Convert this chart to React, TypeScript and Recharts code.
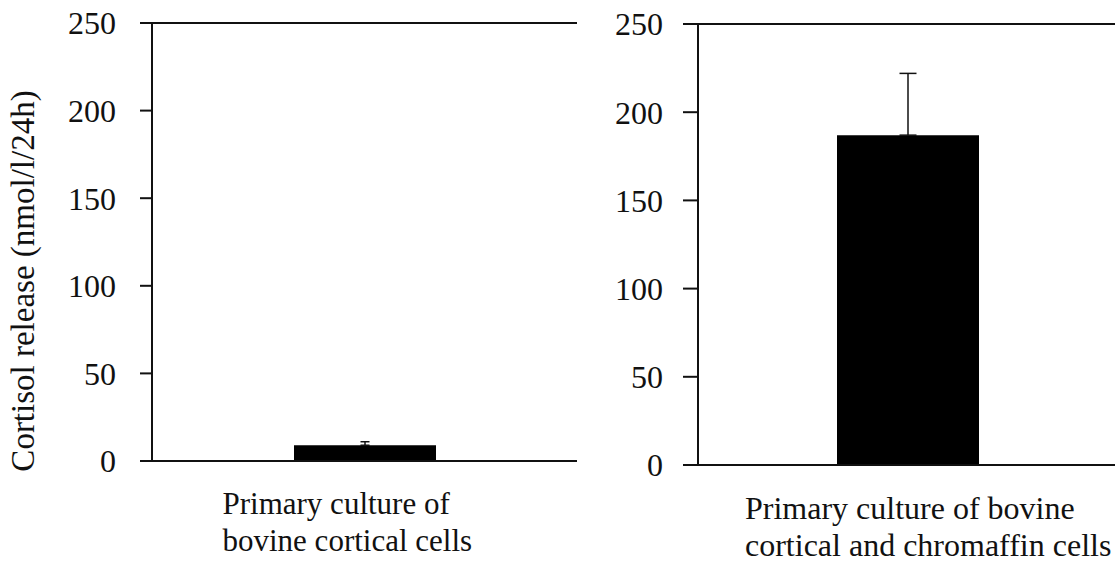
import { BarChart, Bar, XAxis, YAxis, ErrorBar, ReferenceLine, Label } from 'recharts'

const categories = [
  'Primary culture of bovine cortical cells',
  'Primary culture of bovine cortical and chromaffin cells',
]
const categoryLines = [
  ['Primary culture of', 'bovine cortical cells'],
  ['Primary culture of bovine', 'cortical and chromaffin cells'],
]
const cortisolMean = [9, 187]
const cortisolError = [2, 35]
const yTicks = [0, 50, 100, 150, 200, 250]
const yLabel = 'Cortisol release (nmol/l/24h)'

const FONT = 'Liberation Serif, DejaVu Serif, serif'
const INK = '#111'

function CategoryTick(props: any) {
  const { x, y, payload, shift, size, base } = props
  const idx = categories.indexOf(payload.value)
  const lines = categoryLines[idx] || []
  return (
    <g>
      {lines.map((line, i) => (
        <text
          key={i}
          x={x + shift}
          y={y + base + i * 37}
          textAnchor="start"
          style={{ fontFamily: FONT, fontSize: size }}
          fill={INK}
        >
          {line}
        </text>
      ))}
    </g>
  )
}

function AxisTitle(props: any) {
  const vb = props.viewBox || { x: 0, y: 0, width: 0, height: 0 }
  const cx = vb.x + 23
  const cy = vb.y + vb.height / 2 + 39
  return (
    <text
      x={cx}
      y={cy}
      transform={`rotate(-90 ${cx} ${cy})`}
      textAnchor="middle"
      dominantBaseline="central"
      style={{ fontFamily: FONT, fontSize: 33 }}
      fill={INK}
    >
      {yLabel}
    </text>
  )
}

function Panel({ i, left, top, axisWidth, rightGap, xHeight, tickSize, tickMargin, capWidth, shift, labelSize, labelBase, showTitle }: any) {
  const data = [{ name: categories[i], value: cortisolMean[i], err: [0, cortisolError[i]] }]
  return (
    <div style={{ position: 'absolute', left, top: 0 }}>
      <BarChart width={600} height={562} data={data} margin={{ top, right: rightGap, bottom: 0, left: 0 }}>
        <XAxis
          dataKey="name"
          height={xHeight}
          tickSize={0}
          tickMargin={0}
          tickLine={false}
          axisLine={{ stroke: INK, strokeWidth: 2 }}
          tick={<CategoryTick shift={shift} size={labelSize} base={labelBase} />}
          interval={0}
        />
        <YAxis
          width={axisWidth}
          domain={[0, 250]}
          ticks={yTicks}
          allowDataOverflow
          tickSize={tickSize}
          tickMargin={tickMargin}
          axisLine={{ stroke: INK, strokeWidth: 2 }}
          tickLine={{ stroke: INK, strokeWidth: 2 }}
          tick={{ fill: INK, fontSize: 32, style: { fontFamily: FONT } }}
        >
          {showTitle && <Label content={<AxisTitle />} />}
        </YAxis>
        <YAxis
          yAxisId="frame"
          orientation="right"
          width={0}
          domain={[0, 250]}
          tick={false}
          tickLine={false}
          axisLine={{ stroke: INK, strokeWidth: 2 }}
        />
        <ReferenceLine y={250} stroke={INK} strokeWidth={2} />
        <Bar dataKey="value" fill="#000" barSize={142} isAnimationActive={false}>
          <ErrorBar dataKey="err" direction="y" width={capWidth} stroke={INK} strokeWidth={1.5} isAnimationActive={false} />
        </Bar>
      </BarChart>
    </div>
  )
}

export default function App() {
  return (
    <div
      style={{
        position: 'absolute',
        left: 0,
        top: 0,
        width: 1115,
        height: 562,
        overflow: 'hidden',
        background: '#fff',
        fontFamily: FONT,
      }}
    >
      <Panel i={0} left={0} top={23} axisWidth={152} rightGap={23} xHeight={101} tickSize={12} tickMargin={24} capWidth={4.5} shift={-142} labelSize={31} labelBase={53} showTitle />
      <Panel i={1} left={560} top={24} axisWidth={138} rightGap={42} xHeight={97} tickSize={15} tickMargin={20} capWidth={8.5} shift={-163} labelSize={32} labelBase={54} showTitle={false} />
    </div>
  )
}
